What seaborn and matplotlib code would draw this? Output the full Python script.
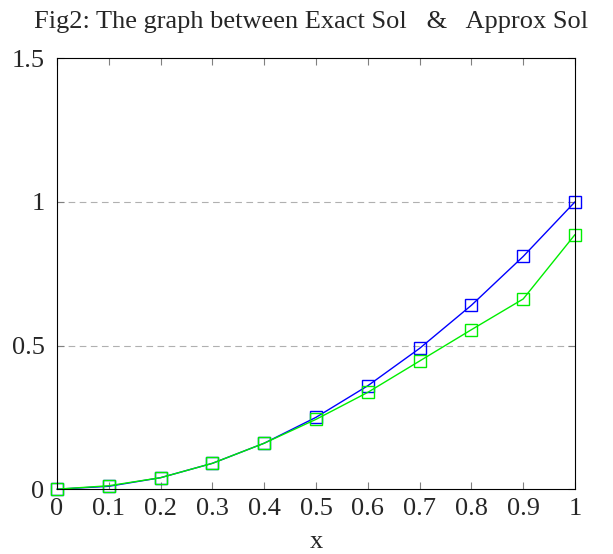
import numpy as np
import pandas as pd
import seaborn as sns
import matplotlib.pyplot as plt

x_vals = [0, 0.1, 0.2, 0.3, 0.4, 0.5, 0.6, 0.7, 0.8, 0.9, 1.0]
exact_sol = [0, 0.01, 0.04, 0.09, 0.16, 0.25, 0.36, 0.49, 0.64, 0.81, 1.0]
approx_sol = [0, 0.012, 0.04, 0.09, 0.16, 0.243, 0.337, 0.446, 0.555, 0.662, 0.886]
x_ticks = [0, 0.1, 0.2, 0.3, 0.4, 0.5, 0.6, 0.7, 0.8, 0.9, 1]
x_ticklabels = ['0', '0.1', '0.2', '0.3', '0.4', '0.5', '0.6', '0.7', '0.8', '0.9', '1']
y_ticks = [0, 0.5, 1, 1.5]
y_ticklabels = ['0', '0.5', '1', '1.5']

df = pd.DataFrame({'x': x_vals * 2,
                   'y': exact_sol + approx_sol,
                   'series': ['Exact Sol'] * len(x_vals) + ['Approx Sol'] * len(x_vals)})

sns.set_style('ticks')
plt.rcParams['font.family'] = ['Liberation Serif', 'DejaVu Serif']

fig = plt.figure(figsize=(6.13, 5.54), dpi=100)
ax = fig.add_axes([0.093, 0.117, 0.845, 0.778])

for yv in [0.5, 1.0]:
    ax.axhline(yv, color='#b0b0b0', lw=0.8, ls=(0, (6, 4)), zorder=0)

sns.lineplot(data=df, x='x', y='y', hue='series',
             palette={'Exact Sol': '#0000ff', 'Approx Sol': '#00ee00'},
             marker='s', markersize=9, markerfacecolor='none',
             markeredgewidth=1.0, lw=1.0, legend=False, ax=ax)
for line, c in zip(ax.lines[2:], ['#0000ff', '#00ee00']):
    line.set_markeredgecolor(c)
    line.set_clip_on(False)

ax.set_xlim(0, 1)
ax.set_ylim(0, 1.5)
ax.set_xticks(x_ticks)
ax.set_xticklabels(x_ticklabels, fontsize=19)
ax.set_yticks(y_ticks)
ax.set_yticklabels(y_ticklabels, fontsize=19)
ax.tick_params(direction='in', length=5, color='#808080', top=True, right=True)
ax.tick_params(axis='x', pad=6)
ax.tick_params(axis='y', pad=9)
for s in ax.spines.values():
    s.set_color('black')
    s.set_linewidth(0.8)
ax.set_xlabel('x', fontsize=19, labelpad=8)
ax.set_ylabel('')
ax.set_title('Fig2: The graph between Exact Sol   &   Approx Sol', fontsize=19, pad=22, x=0.49)

plt.savefig('out.png', dpi=100)
